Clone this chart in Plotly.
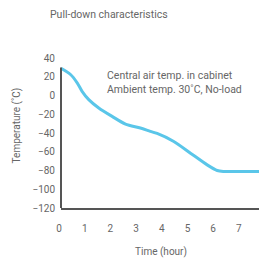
import plotly.graph_objects as go

time_h = [0, 0.37, 0.63, 0.82, 1.08, 1.47, 1.99, 2.51, 3.09, 3.48, 3.74, 4.39, 5.04, 5.69, 6.08, 6.33, 7.0, 8.0, 8.4]
temp_c = [29, 22.4, 13.5, 4.5, -4.4, -13.3, -22.3, -30.5, -34.7, -38.3, -40.5, -49, -61.5, -74, -80, -81, -81, -81, -81]

y_ticks = [40, 20, 0, -20, -40, -60, -80, -100, -120]
x_ticks = [0, 1, 2, 3, 4, 5, 6, 7, 8]

title_text = "Pull-down characteristics"
note_text = "Central air temp. in cabinet<br>Ambient temp. 30˚C, No-load"
x_title = "Time (hour)"
y_title = "Temperature (˚C)"

FONT = "Roboto"
TXT = "#666666"
AX = "#555555"

fig = go.Figure()
fig.add_trace(go.Scatter(
    x=time_h, y=temp_c, mode="lines",
    line=dict(color="#5ac6e9", width=3, shape="spline", smoothing=0.8),
    hoverinfo="skip", showlegend=False,
))

fig.update_layout(
    width=267, height=262,
    margin=dict(l=53, r=0, t=50, b=62, autoexpand=False),
    paper_bgcolor="white", plot_bgcolor="white",
    font=dict(family=FONT, size=10, color=TXT),
    showlegend=False,
    xaxis=dict(
        range=[0, 8.33], tickvals=x_ticks, ticks="", showgrid=False, zeroline=False,
        showline=True, linecolor=AX, linewidth=2, automargin=False,
        ticklabelstandoff=10, ticklabelshift=-2, ticklabeloverflow="allow",
        tickfont=dict(family=FONT, size=10, color=TXT),
        fixedrange=True,
    ),
    yaxis=dict(
        range=[-120, 40], tickvals=y_ticks, ticks="", showgrid=False, zeroline=False,
        showline=False, automargin=False, ticklabelstandoff=5,
        tickfont=dict(family=FONT, size=10, color=TXT),
        fixedrange=True,
    ),
    shapes=[dict(type="line", xref="paper", yref="y", x0=0, x1=0, y0=-120, y1=30,
                 line=dict(color=AX, width=2))],
    annotations=[
        dict(text=title_text, xref="paper", yref="paper", x=-0.062, y=1.291,
             xanchor="left", yanchor="middle", showarrow=False,
             font=dict(family=FONT, size=10.5, color=TXT)),
        dict(text=note_text, xref="paper", yref="y", x=0.2056, y=14.4,
             xanchor="left", yanchor="middle", align="left", showarrow=False,
             font=dict(family=FONT, size=10.5, color=TXT)),
        dict(text=x_title, xref="paper", yref="paper", x=0.465, y=-0.291,
             xanchor="center", yanchor="middle", showarrow=False,
             font=dict(family=FONT, size=10, color=TXT)),
        dict(text=y_title, xref="paper", yref="paper", x=-0.204, y=0.553,
             xanchor="center", yanchor="middle", textangle=-90,
             showarrow=False, font=dict(family=FONT, size=10, color=TXT)),
    ],
)

fig.write_html("out.html")
